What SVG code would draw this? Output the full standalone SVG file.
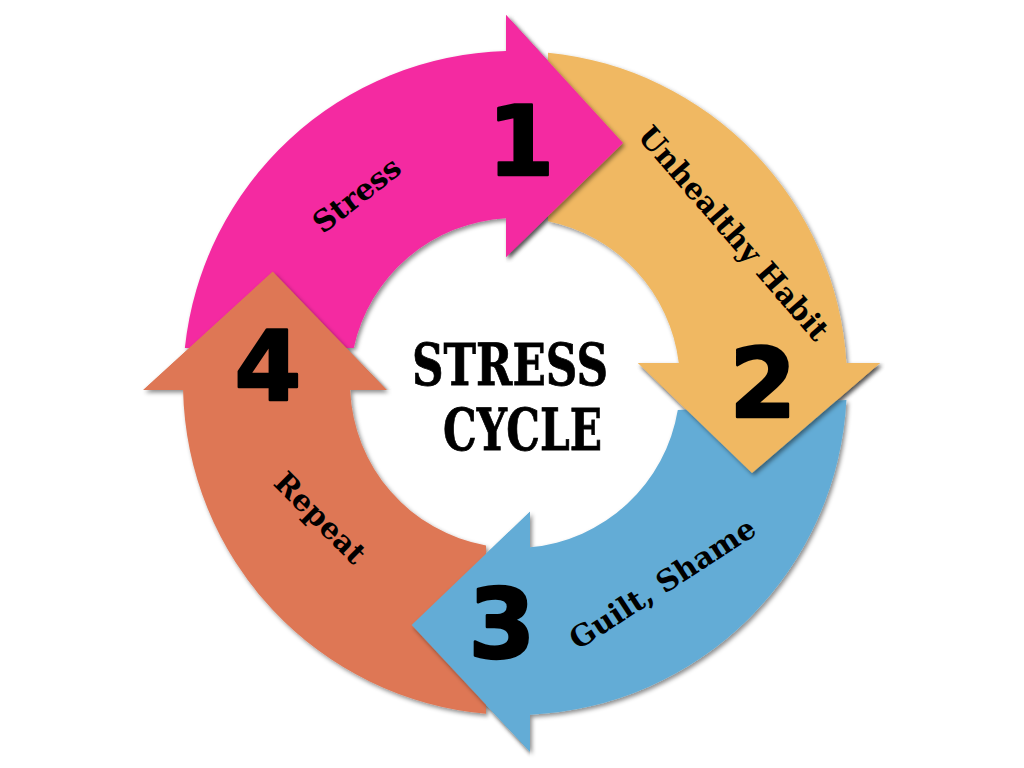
<svg xmlns="http://www.w3.org/2000/svg" width="1024" height="768" viewBox="0 0 1024 768">
<defs>
<style>
.num{font-family:"DejaVu Sans","Liberation Sans",sans-serif;font-weight:bold;font-size:96px;fill:#000;stroke:#000;stroke-width:2.5;stroke-linejoin:round;text-anchor:middle}
.lbl{font-family:"DejaVu Serif","Liberation Serif",serif;font-weight:bold;font-size:29.5px;fill:#000;text-anchor:middle}
.ttl{font-family:"DejaVu Serif","Liberation Serif",serif;font-weight:bold;font-size:58px;fill:#000;stroke:#000;stroke-width:0.8;text-anchor:middle}
.pink{fill:#F42BA1}
.orange{fill:#F0B862}
.blue{fill:#63ACD6}
.red{fill:#DE7755}
</style>
<filter id="sh" x="-10%" y="-10%" width="120%" height="120%">
<feDropShadow dx="2" dy="2.5" stdDeviation="2" flood-color="#000" flood-opacity="0.45"/>
</filter>
<clipPath id="cPink"><rect x="506" y="0" width="200" height="300"/></clipPath>
<clipPath id="cOrange"><rect x="600" y="363" width="320" height="150"/></clipPath>
<clipPath id="cBlue"><rect x="380" y="480" width="150" height="300"/></clipPath>
<clipPath id="cRed"><rect x="100" y="230" width="320" height="160"/></clipPath>
</defs>
<rect width="1024" height="768" fill="#fff"/>
<g id="arrow-bodies" filter="url(#sh)">
<path id="arrow1-body" class="pink" d="M184.85,348 A332,332 0 0 1 506,51.1 L506,15 L623,143 L506,257 L506,218.25 A165,165 0 0 0 353.75,348 Z"/>
<path id="arrow2-body" class="orange" d="M548,52.64 A332,332 0 0 1 846.4,363 L880,363 L752,473 L638,363 L678.8,363 A165,165 0 0 0 548,221.33 Z"/>
<path id="arrow3-body" class="blue" d="M846.4,400 A332,332 0 0 1 530,714.66 L530,751.7 L411.7,625 L530,511.7 L530,547.3 A165,165 0 0 0 677.8,410 Z"/>
<path id="arrow4-body" class="red" d="M486,713.7 A332,332 0 0 1 183.07,390 L143.3,390 L272.7,271.7 L386.7,390 L350.15,390 A165,165 0 0 0 486,545.4 Z"/>
</g>
<g id="arrow-heads">
<g clip-path="url(#cPink)"><polygon class="pink" filter="url(#sh)" points="506,15 623,143 506,257"/></g>
<g clip-path="url(#cOrange)"><polygon class="orange" filter="url(#sh)" points="880,363 752,473 638,363"/></g>
<g clip-path="url(#cBlue)"><polygon class="blue" filter="url(#sh)" points="530,751.7 411.7,625 530,511.7"/></g>
<g clip-path="url(#cRed)"><polygon class="red" filter="url(#sh)" points="143.3,390 272.7,271.7 386.7,390"/></g>
</g>
<g id="node1">
<text class="num" x="521" y="175">1</text>
<text class="lbl" transform="translate(363,203) rotate(-38)">Stress</text>
</g>
<g id="node2">
<text class="num" x="763" y="417">2</text>
<text class="lbl" transform="translate(726,240) rotate(49)">Unhealthy Habit</text>
</g>
<g id="node3">
<text class="num" x="502" y="658">3</text>
<text class="lbl" transform="translate(668,592) rotate(-33)">Guilt, Shame</text>
</g>
<g id="node4">
<text class="num" x="268" y="400">4</text>
<text class="lbl" transform="translate(313,525) rotate(45)">Repeat</text>
</g>
<g id="center">
<text class="ttl" x="510" y="385" textLength="196" lengthAdjust="spacingAndGlyphs">STRESS</text>
<text class="ttl" x="522.5" y="450" textLength="159" lengthAdjust="spacingAndGlyphs">CYCLE</text>
</g>
</svg>
